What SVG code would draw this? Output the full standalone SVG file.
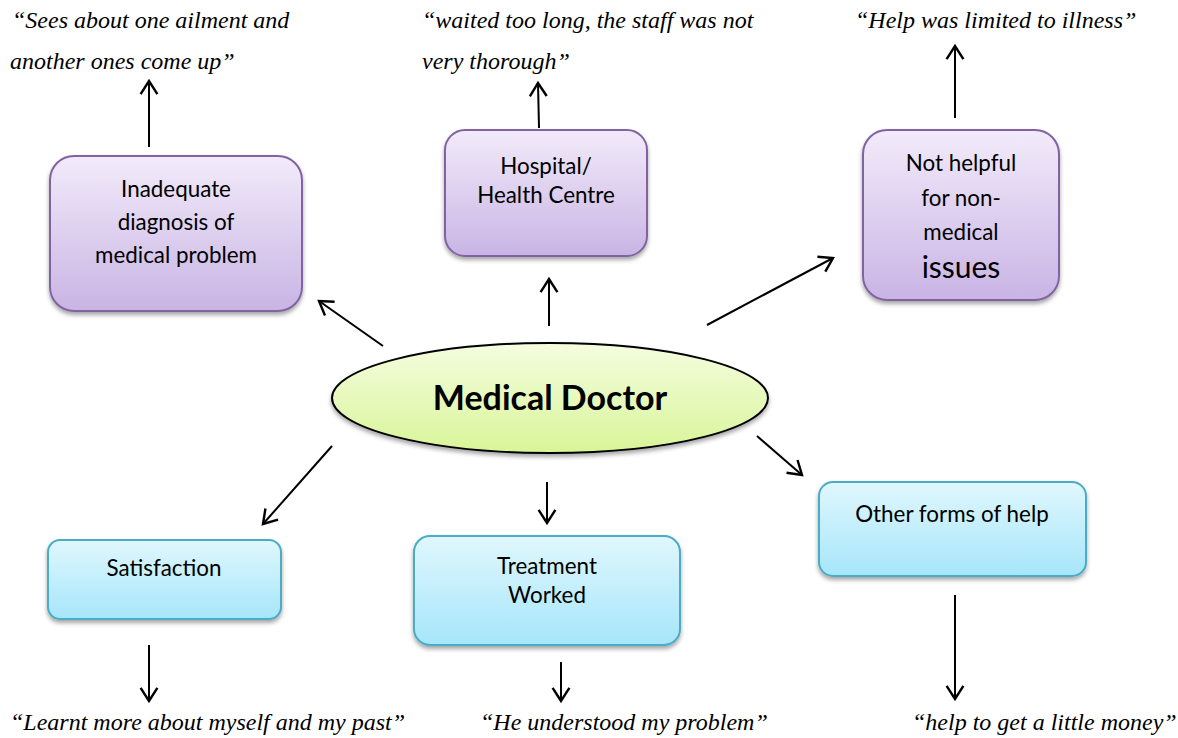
<svg xmlns="http://www.w3.org/2000/svg" width="1178" height="738" viewBox="0 0 1178 738">
  <defs>
    <linearGradient id="gPurple" x1="0" y1="0" x2="0" y2="1">
      <stop offset="0" stop-color="#f2ebfa"/>
      <stop offset="1" stop-color="#c9b4e4"/>
    </linearGradient>
    <linearGradient id="gBlue" x1="0" y1="0" x2="0" y2="1">
      <stop offset="0" stop-color="#e0f7fd"/>
      <stop offset="1" stop-color="#a6e6fa"/>
    </linearGradient>
    <linearGradient id="gGreen" x1="0" y1="0" x2="0" y2="1">
      <stop offset="0" stop-color="#f5fde0"/>
      <stop offset="1" stop-color="#d8f598"/>
    </linearGradient>
    <filter id="shadow" x="-10%" y="-10%" width="130%" height="140%">
      <feDropShadow dx="0" dy="3" stdDeviation="2" flood-color="#000" flood-opacity="0.35"/>
    </filter>
    <marker id="arrow" markerUnits="userSpaceOnUse" markerWidth="24" markerHeight="24" refX="0" refY="0" viewBox="-14 -10 16 20" orient="auto">
      <path d="M-11,-7 L0,0 L-11,7" fill="none" stroke="#000" stroke-width="2"/>
    </marker>
    <style>
      .purple { fill: url(#gPurple); stroke: #8064a2; stroke-width: 2; filter: url(#shadow); }
      .blue { fill: url(#gBlue); stroke: #4bacc6; stroke-width: 2; filter: url(#shadow); }
      .label { font-family: Lato, "Open Sans", sans-serif; font-size: 22.4px; fill: #000; text-anchor: middle; }
      .label.big { font-size: 30px; }
      .quote { font-family: "Liberation Serif", serif; font-style: italic; font-size: 24px; fill: #000; }
      .conn line { stroke: #000; stroke-width: 2; marker-end: url(#arrow); }
    </style>
  </defs>
  <rect width="1178" height="738" fill="#fff"/>

  <!-- connectors -->
  <g id="connectors" class="conn">
    <line x1="383" y1="346" x2="319" y2="301"/>
    <line x1="549" y1="326" x2="549" y2="279"/>
    <line x1="707" y1="325" x2="833" y2="258"/>
    <line x1="332" y1="446" x2="263" y2="524"/>
    <line x1="547" y1="482" x2="547" y2="523"/>
    <line x1="757" y1="436" x2="802" y2="475"/>
    <line x1="149" y1="147" x2="149" y2="81"/>
    <line x1="539" y1="128" x2="538" y2="83"/>
    <line x1="955" y1="118" x2="955" y2="46"/>
    <line x1="149" y1="645" x2="149" y2="701"/>
    <line x1="561" y1="662" x2="561" y2="701"/>
    <line x1="955" y1="595" x2="955" y2="699"/>
  </g>

  <!-- central node -->
  <g id="medical-doctor">
    <ellipse cx="550" cy="398" rx="218" ry="55" fill="url(#gGreen)" stroke="#000" stroke-width="2" filter="url(#shadow)"/>
    <text x="550" y="410" font-family="Lato, 'Open Sans', sans-serif" font-size="34" font-weight="bold" text-anchor="middle">Medical Doctor</text>
  </g>

  <g id="inadequate-diagnosis">
    <rect class="purple" x="50" y="156" width="252" height="155" rx="24"/>
    <text class="label" x="176" y="197">Inadequate</text>
    <text class="label" x="176" y="230">diagnosis of</text>
    <text class="label" x="176" y="263">medical problem</text>
  </g>

  <g id="hospital">
    <rect class="purple" x="445" y="130" width="202" height="126" rx="20"/>
    <text class="label" x="546" y="174">Hospital/</text>
    <text class="label" x="546" y="203">Health Centre</text>
  </g>

  <g id="not-helpful">
    <rect class="purple" x="863" y="130" width="196" height="170" rx="24"/>
    <text class="label" x="961" y="171">Not helpful</text>
    <text class="label" x="961" y="206">for non-</text>
    <text class="label" x="961" y="240">medical</text>
    <text class="label big" x="961" y="278">issues</text>
  </g>

  <g id="satisfaction">
    <rect class="blue" x="48" y="540" width="233" height="79" rx="12"/>
    <text class="label" x="164" y="576">Satisfaction</text>
  </g>

  <g id="treatment-worked">
    <rect class="blue" x="414" y="536" width="266" height="109" rx="16"/>
    <text class="label" x="547" y="574">Treatment</text>
    <text class="label" x="547" y="603">Worked</text>
  </g>

  <g id="other-help">
    <rect class="blue" x="819" y="482" width="267" height="94" rx="14"/>
    <text class="label" x="952" y="522">Other forms of help</text>
  </g>

  <!-- quotations -->
  <g id="quotes">
    <text class="quote" x="12" y="28">“Sees about one ailment and</text>
    <text class="quote" x="10" y="69">another ones come up”</text>
    <text class="quote" x="422" y="28">“waited too long, the staff was not</text>
    <text class="quote" x="422" y="69">very thorough”</text>
    <text class="quote" x="855" y="28">“Help was limited to illness”</text>
    <text class="quote" x="10" y="730">“Learnt more about myself and my past”</text>
    <text class="quote" x="480" y="730">“He understood my problem”</text>
    <text class="quote" x="912" y="730">“help to get a little money”</text>
  </g>
</svg>
